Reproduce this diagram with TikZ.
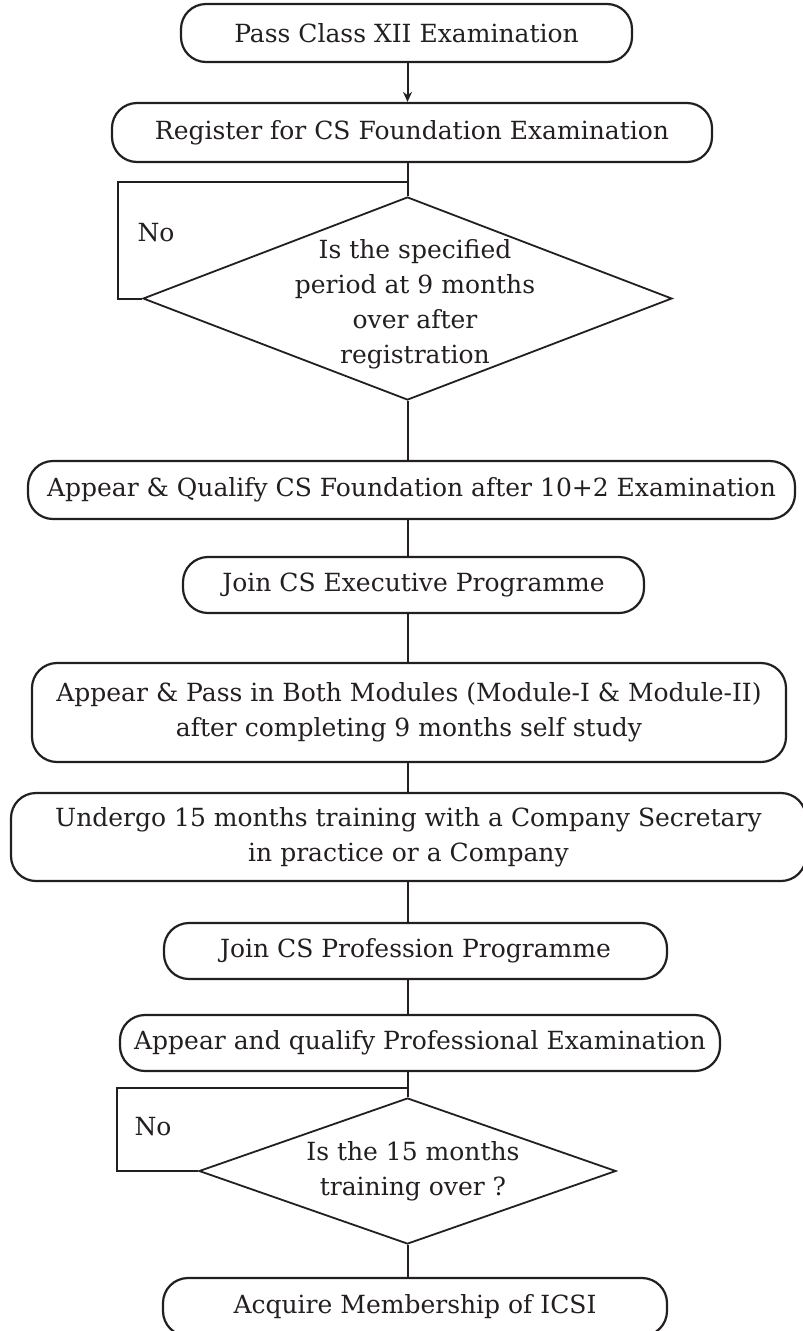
\documentclass[tikz,border=0pt]{standalone}
\usepackage{fontspec}
\setmainfont{DejaVu Serif}
\usetikzlibrary{arrows.meta,calc,shapes.geometric}
\definecolor{ink}{RGB}{35,31,32}
\begin{document}
\begin{tikzpicture}[x=1pt,y=-1pt,
  term/.style={draw=ink,text=ink,line width=2.2pt,rounded corners=25pt,inner sep=0pt,align=center,font=\fontsize{25}{35}\selectfont},
  dec/.style={draw=ink,line width=1.8pt,diamond,inner sep=0pt},
  lbl/.style={text=ink,align=center,font=\fontsize{25}{35}\selectfont,inner sep=0pt},
  conn/.style={draw=ink,line width=2pt},
]
\useasboundingbox (0,0) rectangle (803,1331);
\coordinate (spine) at (407.5,0);

\node[term,minimum width=451pt,minimum height=58pt] (b1) at (406.5,33) {Pass Class XII Examination};
\node[term,minimum width=600pt,minimum height=59pt] (b2) at (412,132.5) {Register for CS Foundation Examination};
\node[dec,minimum width=529pt,minimum height=203pt] (d1) at (407.5,298.5) {};
\node[lbl] (q1) at (415,304) {Is the specified\\period at 9 months\\over after\\registration};
\node[lbl] (no1) at (156,233) {No};
\node[term,minimum width=767pt,minimum height=58pt] (b3) at (411.5,490) {Appear \& Qualify CS Foundation after 10+2 Examination};
\node[term,minimum width=461pt,minimum height=56pt] (b4) at (413.5,585) {Join CS Executive Programme};
\node[term,minimum width=754pt,minimum height=99pt] (b5) at (409,712.5) {Appear \& Pass in Both Modules (Module-I \& Module-II)\\after completing 9 months self study};
\node[term,minimum width=795pt,minimum height=88pt] (b6) at (408.5,837) {Undergo 15 months training with a Company Secretary\\in practice or a Company};
\node[term,minimum width=503pt,minimum height=56pt] (b7) at (415.5,951) {Join CS Profession Programme};
\node[term,minimum width=600pt,minimum height=56pt] (b8) at (420,1043) {Appear and qualify Professional Examination};
\node[dec,minimum width=417pt,minimum height=146pt] (d2) at (407.5,1171) {};
\node[lbl] (q2) at (413,1171.5) {Is the 15 months\\training over ?};
\node[lbl] (no2) at (153,1127) {No};
\node[term,minimum width=504pt,minimum height=58pt] (b9) at (415,1307) {Acquire Membership of ICSI};

\draw[conn,-{Stealth[length=10pt,width=9pt]}] (b1.south -| spine) -- (b2.north -| spine);
\draw[conn] (b2.south -| spine) -- (d1.north);
\coordinate (j1) at (407.5,182);
\coordinate (k1) at (118,182);
\draw[conn] (j1) -- (k1) |- (d1.west);
\draw[conn] (d1.south) -- (d1.south |- b3.north);
\draw[conn] (b3.south -| spine) -- (b4.north -| spine);
\draw[conn] (b4.south -| spine) -- (b5.north -| spine);
\draw[conn] (b5.south -| spine) -- (b6.north -| spine);
\draw[conn] (b6.south -| spine) -- (b7.north -| spine);
\draw[conn] (b7.south -| spine) -- (b8.north -| spine);
\draw[conn] (b8.south -| spine) -- (d2.north);
\coordinate (j2) at (407.5,1088);
\coordinate (k2) at (117,1088);
\draw[conn] (j2) -- (k2) |- (d2.west);
\draw[conn] (d2.south) -- (d2.south |- b9.north);
\end{tikzpicture}
\end{document}
